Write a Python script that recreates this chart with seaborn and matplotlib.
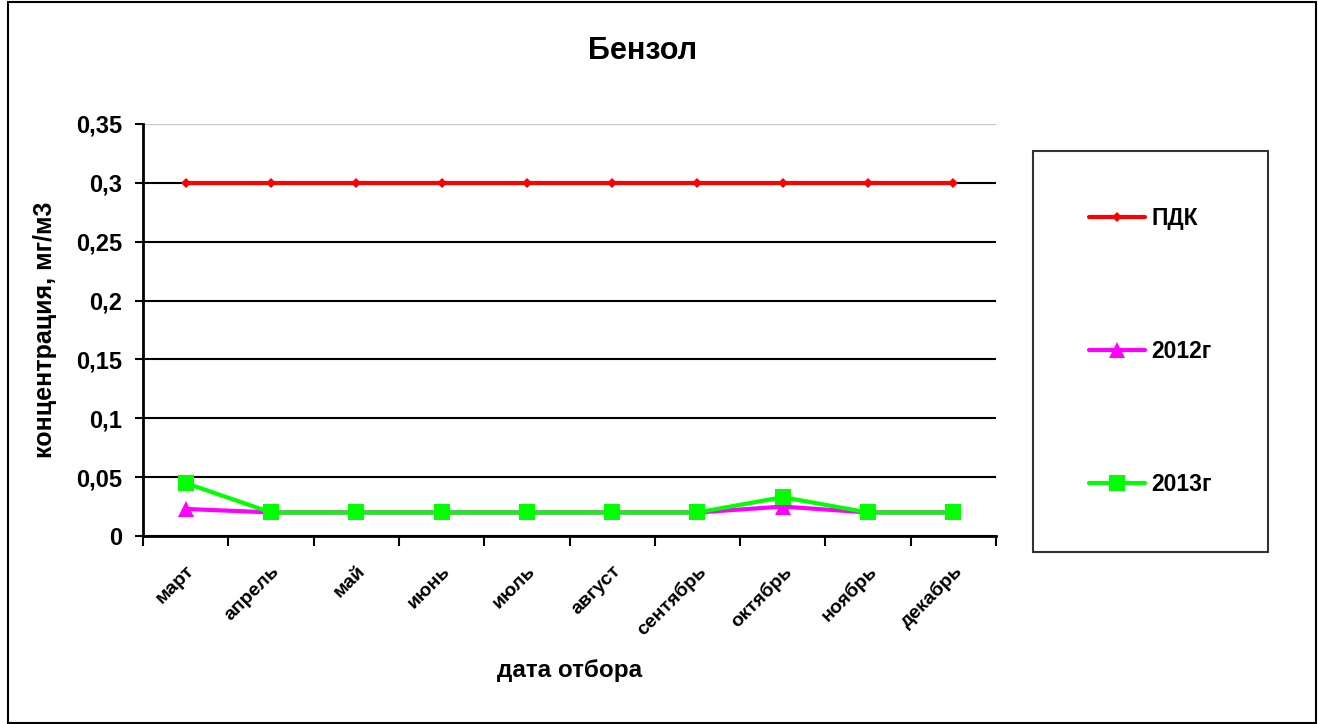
import matplotlib
matplotlib.use("Agg")
import matplotlib.pyplot as plt
import matplotlib.transforms as mtransforms
import seaborn as sns
import pandas as pd
from matplotlib.patches import Rectangle
from matplotlib.ticker import FixedLocator

months = ["март", "апрель", "май", "июнь", "июль", "август",
          "сентябрь", "октябрь", "ноябрь", "декабрь"]
pdk = [0.3, 0.3, 0.3, 0.3, 0.3, 0.3, 0.3, 0.3, 0.3, 0.3]
y2012 = [0.023, 0.02, 0.02, 0.02, 0.02, 0.02, 0.02, 0.025, 0.02, 0.02]
y2013 = [0.045, 0.02, 0.02, 0.02, 0.02, 0.02, 0.02, 0.033, 0.02, 0.02]
y_ticks = [0, 0.05, 0.1, 0.15, 0.2, 0.25, 0.3, 0.35]
y_tick_labels = ["0", "0,05", "0,1", "0,15", "0,2", "0,25", "0,3", "0,35"]

sns.set_style("white")
plt.rcParams['font.family'] = ['Liberation Sans', 'DejaVu Sans']
plt.rcParams.update({"text.color": "black", "axes.labelcolor": "black",
                     "xtick.color": "black", "ytick.color": "black"})

fig = plt.figure(figsize=(13.18, 7.24), dpi=100)
ax = fig.add_axes([143 / 1318, 1 - 536 / 724, 853 / 1318, 412 / 724])

df = pd.DataFrame({"month": months, "ПДК": pdk, "2012г": y2012, "2013г": y2013})
pos = list(range(len(months)))

sns.lineplot(x=pos, y=df["ПДК"], ax=ax, color="#ff0000", lw=3, marker="D",
             markersize=5, markeredgewidth=0, label="ПДК", sort=False)
sns.lineplot(x=pos, y=df["2012г"], ax=ax, color="#ff00ff", lw=3, marker="^",
             markersize=11, markeredgewidth=0, label="2012г", sort=False)
sns.lineplot(x=pos, y=df["2013г"], ax=ax, color="#00ff00", lw=3, marker="s",
             markersize=11, markeredgewidth=0, label="2013г", sort=False)

ax.set_xlim(-0.5, len(months) - 0.5)
ax.set_ylim(0, 0.35)
ax.set_yticks(y_ticks)
ax.set_yticklabels(y_tick_labels, fontsize=17, fontweight="bold")
ax.set_xticks(pos)
ax.set_xticklabels(months, rotation=45, ha="right", va="top", rotation_mode="anchor",
                   fontsize=14, fontweight="bold")
shift = mtransforms.ScaledTranslation(-8 / 100, 0, fig.dpi_scale_trans)
for lbl in ax.get_xticklabels():
    lbl.set_transform(lbl.get_transform() + shift)
ax.xaxis.set_minor_locator(FixedLocator([p - 0.5 for p in pos] + [len(months) - 0.5]))
ax.tick_params(axis="x", which="major", length=0, pad=19)
ax.tick_params(axis="x", which="minor", length=7, width=1.5, color="black", direction="out", bottom=True)
ax.tick_params(axis="y", length=6, width=1.5, color="black", direction="out", left=True, pad=9)

ax.yaxis.grid(True, color="black", lw=1.5)
ax.yaxis.get_gridlines()[-1].set_color("#c8c8c8")
ax.yaxis.get_gridlines()[-1].set_linewidth(1)
ax.set_axisbelow(True)

for s in ["top", "right"]:
    ax.spines[s].set_visible(False)
for s in ["left", "bottom"]:
    ax.spines[s].set_color("black")
    ax.spines[s].set_linewidth(2)

ax.set_xlabel("дата отбора", fontsize=17.5, fontweight="bold")
ax.set_ylabel("концентрация, мг/м3", fontsize=18, fontweight="bold")
ax.xaxis.set_label_coords(0.5, -(670 - 536) / 412)
ax.xaxis.label.set_va("center")
ax.yaxis.set_label_coords(-(143 - 45) / 853, 0.5)
ax.yaxis.label.set_va("center")

ax.legend_.remove()
handles, labels = ax.get_legend_handles_labels()
leg = fig.legend(handles, labels, loc="upper left",
                 bbox_to_anchor=(1033 / 1318, 1 - 151 / 724), borderaxespad=0,
                 frameon=True, fancybox=False, edgecolor="black",
                 prop={"size": 16.5, "weight": "bold"}, labelspacing=4.8,
                 borderpad=2.45, handlelength=2.45, handletextpad=0.25)
leg.get_frame().set_linewidth(1.5)

fig.text(643 / 1318, 1 - 51 / 724, "Бензол", ha="center", va="center",
         fontsize=22, fontweight="bold")

fig.patches.append(Rectangle((8 / 1318, 1 / 724), 1308 / 1318, 721 / 724,
                             transform=fig.transFigure, fill=False,
                             edgecolor="black", lw=1.5))

fig.savefig("out.png", dpi=100)
